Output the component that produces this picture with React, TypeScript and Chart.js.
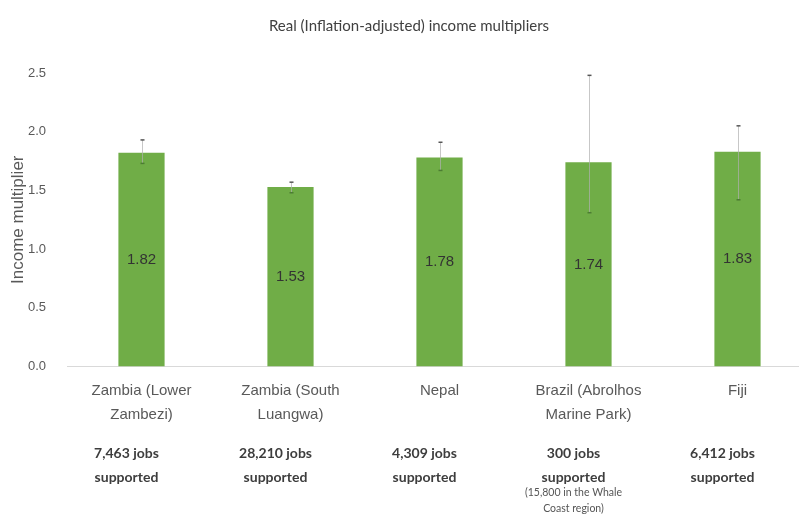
import React, { useEffect, useRef } from "react";
import { Chart, registerables } from "chart.js";

Chart.register(...registerables);

// ---- data ----
const categories: string[][] = [
  ["Zambia (Lower", "Zambezi)"],
  ["Zambia (South", "Luangwa)"],
  ["Nepal"],
  ["Brazil (Abrolhos", "Marine Park)"],
  ["Fiji"],
];
const multipliers = [1.82, 1.53, 1.78, 1.74, 1.83];
const errLow = [1.73, 1.48, 1.67, 1.31, 1.42];
const errHigh = [1.93, 1.57, 1.91, 2.48, 2.05];
const jobsLines: string[][] = [
  ["7,463 jobs", "supported"],
  ["28,210 jobs", "supported"],
  ["4,309 jobs", "supported"],
  ["300 jobs", "supported"],
  ["6,412 jobs", "supported"],
];
const jobsNotes: string[][] = [[], [], [], ["(15,800 in the Whale", "Coast region)"], []];
const yMin = 0;
const yMax = 2.5;
const yStep = 0.5;
const titleText = "Real (Inflation-adjusted) income multipliers";
const yAxisTitle = "Income multiplier";

const REG = '"Liberation Sans", Arial, sans-serif';
const CAL = 'Lato, "Open Sans", sans-serif';

const errorBarPlugin = {
  id: "errorBars",
  afterDatasetsDraw(chart: any) {
    const ctx = chart.ctx;
    const meta = chart.getDatasetMeta(0);
    const ys = chart.scales.y;
    ctx.save();
    meta.data.forEach((bar: any, i: number) => {
      const x = Math.round(bar.x) + 0.5;
      const yl = ys.getPixelForValue(errLow[i]);
      const yh = ys.getPixelForValue(errHigh[i]);
      ctx.strokeStyle = "rgba(175,175,175,0.7)";
      ctx.lineWidth = 1;
      ctx.beginPath();
      ctx.moveTo(x, yh);
      ctx.lineTo(x, yl);
      ctx.stroke();
      ctx.strokeStyle = "#555555";
      ctx.lineWidth = 1.5;
      ctx.beginPath();
      ctx.moveTo(x - 2, yh);
      ctx.lineTo(x + 2, yh);
      ctx.stroke();
      ctx.strokeStyle = "#4c7d33";
      ctx.beginPath();
      ctx.moveTo(x - 2, yl);
      ctx.lineTo(x + 2, yl);
      ctx.stroke();
    });
    ctx.restore();
  },
};

const valueLabelPlugin = {
  id: "valueLabels",
  afterDatasetsDraw(chart: any) {
    const ctx = chart.ctx;
    const meta = chart.getDatasetMeta(0);
    ctx.save();
    ctx.font = `15px ${REG}`;
    ctx.fillStyle = "#333333";
    ctx.textAlign = "center";
    ctx.textBaseline = "middle";
    meta.data.forEach((bar: any, i: number) => {
      ctx.fillText(multipliers[i].toFixed(2), bar.x, (bar.y + bar.base) / 2);
    });
    ctx.restore();
  },
};

const jobsPlugin = {
  id: "jobsText",
  afterDraw(chart: any) {
    const ctx = chart.ctx;
    const xs = chart.scales.x;
    const base = chart.chartArea.bottom;
    ctx.save();
    ctx.textAlign = "center";
    ctx.textBaseline = "middle";
    categories.forEach((_, i) => {
      const x = xs.getPixelForValue(i) - 15;
      ctx.font = `bold 14px ${CAL}`;
      ctx.fillStyle = "#3d3d3d";
      jobsLines[i].forEach((line, k) => {
        ctx.fillText(line, x, base + 87 + k * 24);
      });
      ctx.font = `10.5px ${CAL}`;
      ctx.fillStyle = "#555555";
      jobsNotes[i].forEach((line, k) => {
        ctx.fillText(line, x, base + 126 + k * 16);
      });
    });
    ctx.restore();
  },
};

export default function App() {
  const ref = useRef<HTMLCanvasElement | null>(null);
  useEffect(() => {
    document.body.style.margin = "0";
    document.body.style.overflow = "hidden";
    document.documentElement.style.overflow = "hidden";
    const canvas = ref.current;
    if (!canvas) return;
    const chart = new Chart(canvas, {
      type: "bar",
      data: {
        labels: categories,
        datasets: [
          {
            data: multipliers,
            backgroundColor: "#70AD47",
            borderWidth: 0,
            categoryPercentage: 1,
            barPercentage: 0.31,
          },
        ],
      },
      options: {
        animation: false,
        responsive: true,
        maintainAspectRatio: false,
        layout: { padding: { left: 6, right: 3, top: 0, bottom: 86 } },
        plugins: {
          legend: { display: false },
          tooltip: { enabled: false },
          title: {
            display: true,
            text: titleText,
            color: "#404040",
            font: { family: CAL, size: 15, weight: "normal" },
            padding: { top: 17, bottom: 38 },
          },
        },
        scales: {
          x: {
            grid: { display: false, drawTicks: false },
            border: { display: true, color: "#d9d9d9", width: 1 },
            ticks: {
              color: "#595959",
              font: { family: REG, size: 15, lineHeight: 1.55 },
              padding: 13,
              maxRotation: 0,
              autoSkip: false,
            },
          },
          y: {
            min: yMin,
            max: yMax,
            grid: { display: false, drawTicks: false },
            border: { display: false },
            afterFit: (scale: any) => {
              scale.width = 61;
            },
            ticks: {
              stepSize: yStep,
              color: "#595959",
              font: { family: REG, size: 13 },
              padding: 21,
              callback: (v: any) => Number(v).toFixed(1),
            },
            title: {
              display: true,
              text: yAxisTitle,
              color: "#595959",
              font: { family: REG, size: 17 },
              padding: { top: 2, bottom: 2 },
            },
          },
        },
      },
      plugins: [errorBarPlugin, valueLabelPlugin, jobsPlugin],
    });
    return () => chart.destroy();
  }, []);
  return (
    <div style={{ position: "fixed", left: 0, top: 0, width: 815, height: 525, background: "#ffffff" }}>
      <canvas ref={ref} />
    </div>
  );
}
